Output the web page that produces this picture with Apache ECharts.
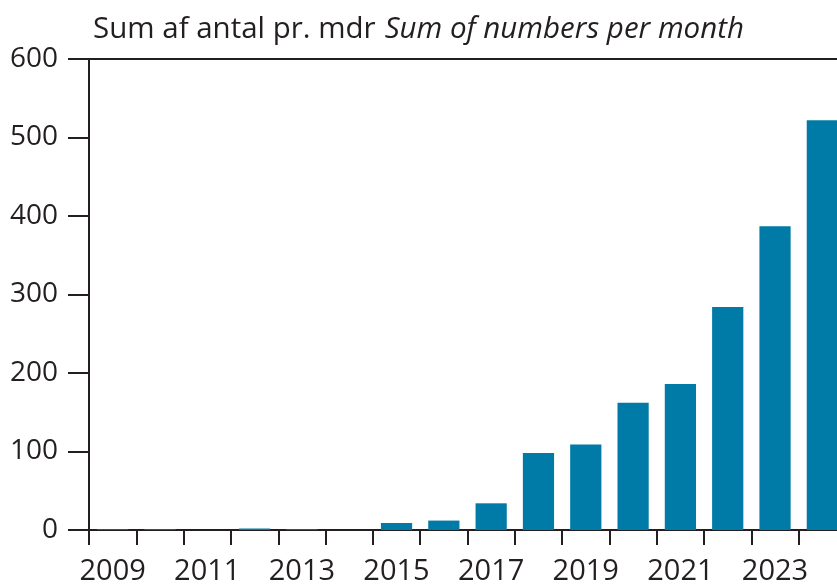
<!DOCTYPE html>
<html>
<head>
<meta charset="utf-8">
<script src="https://cdn.jsdelivr.net/npm/echarts@6/dist/echarts.min.js"></script>
<style>html,body{margin:0;padding:0;background:#fff}#c{width:837px;height:585px}</style>
</head>
<body>
<div id="c"></div>
<script>
const years = ['2009','2010','2011','2012','2013','2014','2015','2016','2017','2018','2019','2020','2021','2022','2023','2024'];
const values = [1, 1, 0, 2, 1, 0, 9, 12, 34, 98, 109, 162, 186, 284, 387, 522];
const yTicks = [0, 100, 200, 300, 400, 500, 600];
const titleDa = 'Sum af antal pr. mdr';
const titleEn = 'Sum of numbers per month';

const FONT = '"Open Sans", sans-serif';
const chart = echarts.init(document.getElementById('c'), null, {renderer: 'canvas'});
chart.setOption({
  animation: false,
  backgroundColor: '#fff',
  title: {
    left: 88, top: 10,
    text: '{a|' + titleDa + '} {b|' + titleEn + '}',
    textStyle: {
      fontWeight: 'normal',
      rich: {
        a: {fontFamily: FONT, fontSize: 29.5, fontWeight: 'normal', color: '#231f20'},
        b: {fontFamily: FONT, fontSize: 29.5, fontWeight: 'normal', fontStyle: 'italic', color: '#231f20', padding: [0, 0, 0, 4]}
      }
    }
  },
  grid: {left: 89, top: 59, right: -9, bottom: 55, outerBoundsMode: 'none', containLabel: false},
  xAxis: [{
    type: 'category',
    data: years,
    boundaryGap: true,
    axisLine: {lineStyle: {color: '#231f20', width: 2}},
    axisTick: {show: true, interval: 0, length: 15, lineStyle: {color: '#231f20', width: 2}},
    axisLabel: {interval: 1, margin: 27, fontFamily: FONT, fontSize: 29, color: '#231f20'}
  }, {
    type: 'category',
    data: years,
    position: 'top',
    axisLine: {show: true, lineStyle: {color: '#231f20', width: 2}},
    axisTick: {show: false},
    axisLabel: {show: false}
  }],
  yAxis: {
    type: 'value',
    min: 0, max: 600, interval: 100,
    axisLine: {show: true, lineStyle: {color: '#231f20', width: 2}},
    axisTick: {show: true, inside: false, length: 21, lineStyle: {color: '#231f20', width: 2}},
    splitLine: {show: false},
    axisLabel: {margin: 31, fontFamily: FONT, fontSize: 28, color: '#231f20',
      formatter: v => yTicks.includes(v) ? String(v) : ''}
  },
  series: [{
    type: 'bar',
    data: values,
    barCategoryGap: '34%',
    itemStyle: {color: '#007aa6'}
  }]
});
</script>
</body>
</html>
